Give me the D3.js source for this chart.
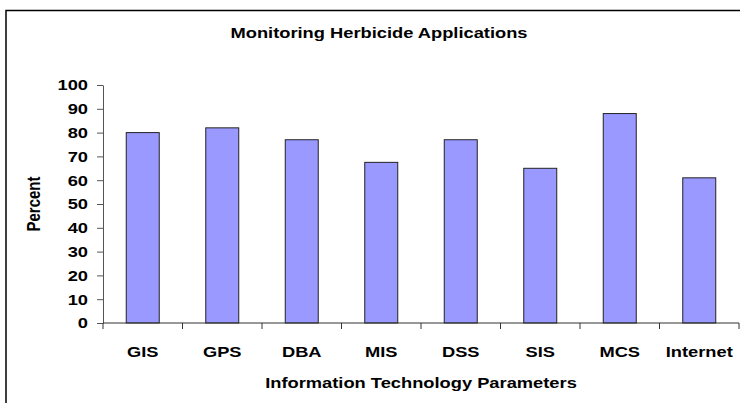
<!DOCTYPE html>
<html lang="en">
<head>
  <meta charset="UTF-8">
  <title>Monitoring Herbicide Applications</title>
  <script src="https://d3js.org/d3.v7.min.js"></script>
  <style>
    body { margin: 0; background: #fff; }
    svg { display: block; font-family: "Liberation Sans", Arial, sans-serif; }
  </style>
</head>
<body>
  <script>
    // values
    const categories = ["GIS", "GPS", "DBA", "MIS", "DSS", "SIS", "MCS", "Internet"];
    const percents = [80, 82, 77, 67.5, 77, 65, 88, 61];
    const yTicks = [0, 10, 20, 30, 40, 50, 60, 70, 80, 90, 100];

    const width = 740, height = 403;
    const margin = {top: 85, right: 1, bottom: 80, left: 103};
    const fs = 15, sx = 1.22; // the original text is stretched sideways

    const svg = d3.select("body").append("svg")
      .attr("width", width)
      .attr("height", height);

    // outer frame (runs off the right and bottom edges)
    svg.append("path")
      .attr("d", `M6,${height} L6,10.5 L${width},10.5`)
      .attr("fill", "none")
      .attr("stroke", "#000")
      .attr("stroke-width", 1.5);

    const x = d3.scaleBand()
      .domain(categories)
      .range([margin.left, width - margin.right])
      .paddingInner(0.585)
      .paddingOuter(0.2925);

    const y = d3.scaleLinear()
      .domain([0, 100])
      .range([height - margin.bottom, margin.top]);

    // bars
    svg.selectAll("rect.bar")
      .data(categories)
      .enter()
      .append("rect")
      .attr("class", "bar")
      .attr("x", d => x(d))
      .attr("y", (d, i) => y(percents[i]))
      .attr("width", x.bandwidth())
      .attr("height", (d, i) => y(0) - y(percents[i]))
      .attr("fill", "#9999ff")
      .attr("stroke", "#222")
      .attr("stroke-width", 1);

    // y axis
    const yAxis = svg.append("g")
      .attr("transform", `translate(${margin.left},0)`)
      .call(d3.axisLeft(y).tickValues(yTicks).tickSize(6).tickSizeOuter(0));
    yAxis.select(".domain").attr("stroke", "#555");
    yAxis.selectAll(".tick line").attr("stroke", "#555");
    yAxis.selectAll("text")
      .attr("x", 0)
      .attr("transform", `translate(-15,0) scale(${sx},1)`)
      .attr("font-size", fs)
      .attr("font-weight", "bold")
      .attr("fill", "#000")
      .attr("font-family", "Liberation Sans, Arial, sans-serif");

    // x axis: ticks sit on the category boundaries
    const step = x.step();
    const bounds = d3.range(categories.length + 1).map(i => margin.left + i * step);
    const xAxis = svg.append("g");
    xAxis.append("line")
      .attr("x1", margin.left).attr("x2", width - margin.right)
      .attr("y1", y(0)).attr("y2", y(0))
      .attr("stroke", "#333");
    xAxis.selectAll("line.tick")
      .data(bounds)
      .enter()
      .append("line")
      .attr("class", "tick")
      .attr("x1", d => d).attr("x2", d => d)
      .attr("y1", y(0)).attr("y2", y(0) + 6)
      .attr("stroke", "#333");
    xAxis.selectAll("text")
      .data(categories)
      .enter()
      .append("text")
      .attr("transform", d => `translate(${x(d) + x.bandwidth() / 2},357) scale(${sx},1)`)
      .attr("text-anchor", "middle")
      .attr("font-size", fs)
      .attr("font-weight", "bold")
      .text(d => d);

    // titles
    svg.append("text")
      .attr("transform", `translate(379,38) scale(${sx},1)`)
      .attr("text-anchor", "middle")
      .attr("font-size", fs)
      .attr("font-weight", "bold")
      .text("Monitoring Herbicide Applications");

    svg.append("text")
      .attr("transform", `translate(${(margin.left + width - margin.right) / 2},388) scale(${sx},1)`)
      .attr("text-anchor", "middle")
      .attr("font-size", fs)
      .attr("font-weight", "bold")
      .text("Information Technology Parameters");

    svg.append("text")
      .attr("transform", `translate(40,${(y(0) + y(100)) / 2}) rotate(-90) scale(1,${sx})`)
      .attr("text-anchor", "middle")
      .attr("font-size", fs)
      .attr("font-weight", "bold")
      .text("Percent");
  </script>
</body>
</html>
